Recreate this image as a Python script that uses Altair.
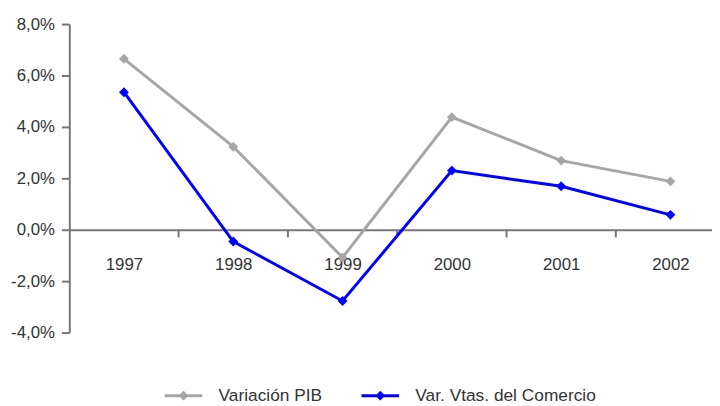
import altair as alt
import pandas as pd

years = [1997, 1998, 1999, 2000, 2001, 2002]
variacion_pib = [6.65, 3.23, -1.08, 4.38, 2.69, 1.88]
var_comercio = [5.35, -0.46, -2.77, 2.30, 1.69, 0.58]
series_names = ["Variación PIB", "Var. Vtas. del Comercio"]
series_colors = ["#a6a6a6", "#0000ff"]
y_ticks = [-4, -2, 0, 2, 4, 6, 8]

rows = []
for i, yr in enumerate(years):
    rows.append({"year": yr, "serie": series_names[0], "valor": variacion_pib[i]})
    rows.append({"year": yr, "serie": series_names[1], "valor": var_comercio[i]})
df = pd.DataFrame(rows)
bounds = pd.DataFrame({"b": [y + 0.5 for y in years[:-1]]})

FONT = "Liberation Sans"
AXC = "#777777"
TXT = "#333333"

xscale = alt.Scale(domain=[1996.5, 2002.38], nice=False, zero=False)
yscale = alt.Scale(domain=[-4, 8], nice=False)
color = alt.Color(
    "serie:N",
    scale=alt.Scale(domain=series_names, range=series_colors),
    legend=alt.Legend(
        title=None, orient="none", legendX=95, legendY=355, direction="horizontal",
        symbolType="M-1,0H1M0,-0.15L0.15,0L0,0.15L-0.15,0Z",
        symbolSize=1444, symbolStrokeWidth=3, labelFontSize=17.5, labelFont=FONT,
        labelColor=TXT, labelOffset=15, columnPadding=33, labelLimit=0,
    ),
)

x_enc = alt.X(
    "year:Q", scale=xscale,
    axis=alt.Axis(values=years, format="d", title=None, ticks=False, grid=False,
                  offset=-104, labelPadding=27, labelFontSize=17, labelFont=FONT,
                  labelColor=TXT, domainColor=AXC, domainWidth=2),
)
y_enc = alt.Y(
    "valor:Q", scale=yscale,
    axis=alt.Axis(values=y_ticks, title=None, grid=False, tickSize=8, tickColor=AXC,
                  tickWidth=2, domainColor=AXC, domainWidth=2, labelPadding=7,
                  labelFontSize=17, labelFont=FONT, labelColor=TXT,
                  labelExpr="replace(replace(format(datum.value, '.1f'), '.', ','), '\u2212', '-') + '%'"),
)

lines = alt.Chart(df).mark_line(strokeWidth=3).encode(x=x_enc, y=y_enc, color=color)
points = alt.Chart(df).mark_point(shape="diamond", filled=True, size=100, opacity=1).encode(
    x="year:Q", y="valor:Q",
    color=alt.Color("serie:N", scale=alt.Scale(domain=series_names, range=series_colors), legend=None),
)
ticks = alt.Chart(bounds).mark_rule(color=AXC, strokeWidth=2).encode(
    x="b:Q", y=alt.datum(0), y2=alt.datum(-0.3)
)

chart = alt.layer(ticks, lines, points).properties(
    width=650, height=312,
    autosize=alt.AutoSizeParams(type="none"),
    padding={"left": 62, "top": 14, "right": 0, "bottom": 72},
).configure_view(stroke=None)

chart.save("out.html", embed_options={"renderer": "svg", "actions": False})
